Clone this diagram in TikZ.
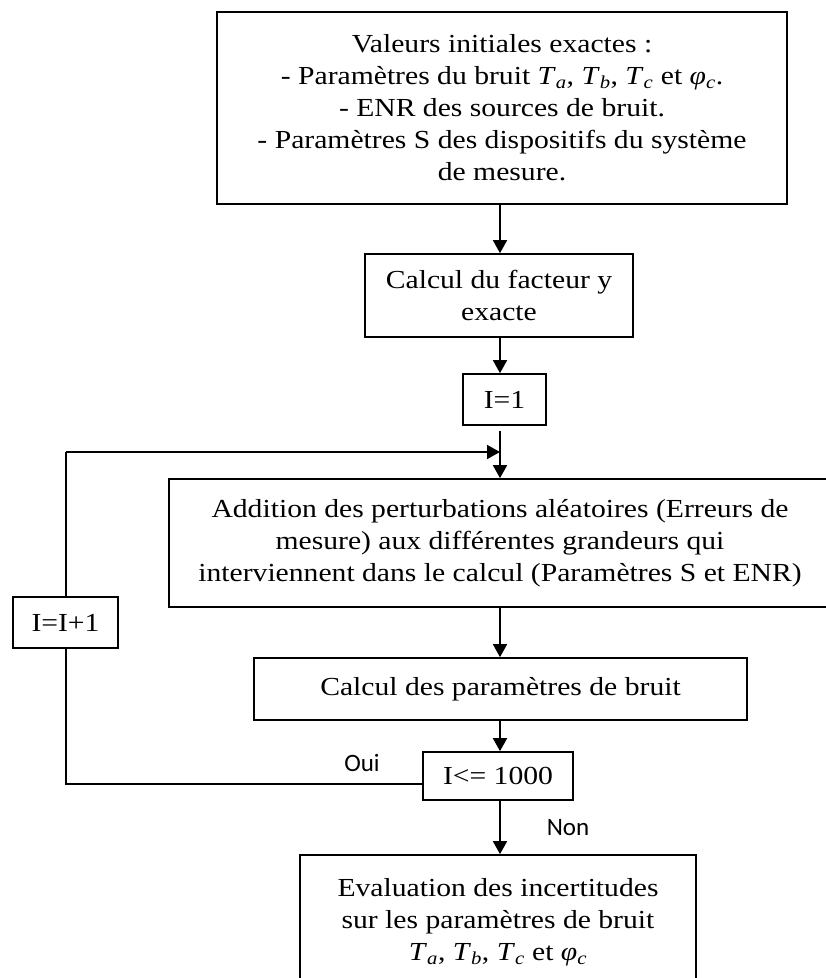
\documentclass[tikz,border=0pt]{standalone}
\usepackage{fontspec}
\setmainfont{Liberation Serif}[FakeStretch=1.14]
\newfontfamily\labfont{Carlito}
\usetikzlibrary{arrows.meta,calc}
\tikzset{
  box/.style={draw, line width=1.7pt, fill=white, inner sep=0pt, align=center,
    font=\fontsize{26}{32}\selectfont},
  arr/.style={line width=1.7pt, -{Triangle[width=14pt,length=13pt]}},
  ln/.style={line width=1.7pt},
  lab/.style={font=\labfont\fontsize{25}{28}\selectfont, inner sep=0pt}
}
\newcommand{\Tv}[1]{\textit{T}\textsubscript{\textit{#1}}}
\newcommand{\phic}{\textit{φ}\textsubscript{\textit{c}}}
\begin{document}
\begin{tikzpicture}[x=1pt,y=-1pt]
\useasboundingbox (0,0) rectangle (826,978);
\clip (0,0) rectangle (826,978);
\node[box, minimum width=570pt, minimum height=192pt] (top) at (502,108)
  {Valeurs initiales exactes :\\
   - Paramètres du bruit \Tv{a}, \Tv{b}, \Tv{c} et \phic.\\
   - ENR des sources de bruit.\\
   - Paramètres S des dispositifs du système\\
   de mesure.};
\node[box, minimum width=268pt, minimum height=83pt] (fac) at (499,295.5)
  {Calcul du facteur y\\exacte};
\node[box, minimum width=83pt, minimum height=51pt] (i1) at (504.5,399.5) {I=1};
\node[box, minimum width=662pt, minimum height=128pt] (add) at (500,543)
  {Addition des perturbations aléatoires (Erreurs de\\
   mesure) aux différentes grandeurs qui\\
   interviennent dans le calcul (Paramètres S et ENR)};
\node[box, minimum width=493pt, minimum height=62pt] (calc) at (500.5,689)
  {Calcul des paramètres de bruit};
\node[box, minimum width=150pt, minimum height=48pt] (cond) at (498,776) {I<= 1000};
\node[box, minimum width=396pt, minimum height=135pt] (fin) at (498,922.5)
  {Evaluation des incertitudes\\
   sur les paramètres de bruit\\
   \Tv{a}, \Tv{b}, \Tv{c} et \phic};
\coordinate (loopin) at (500,452);
\coordinate (loopbl) at (66,784);
\coordinate (looptl) at (66,452);
\draw[ln] (cond.west |- loopbl) -- (loopbl) -- (looptl);
\draw[arr] (looptl) -- (loopin);
\node[box, minimum width=105pt, minimum height=51pt] (inc) at (65.5,622.5) {I=I+1};
\draw[arr] (top.south -| 500,0) -- (fac.north -| 500,0);
\draw[arr] (fac.south -| 500,0) -- (i1.north -| 500,0);
\draw[arr] ($(i1.south -| 500,0)+(0,5)$) -- (add.north -| 500,0);
\draw[arr] (add.south -| 500,0) -- (calc.north -| 500,0);
\draw[arr] (calc.south -| 500,0) -- (cond.north -| 500,0);
\draw[arr] (cond.south -| 500,0) -- (fin.north -| 500,0);
\node[lab] (oui) at (362,763) {Oui};
\node[lab] (non) at (568,828) {Non};
\end{tikzpicture}
\end{document}
